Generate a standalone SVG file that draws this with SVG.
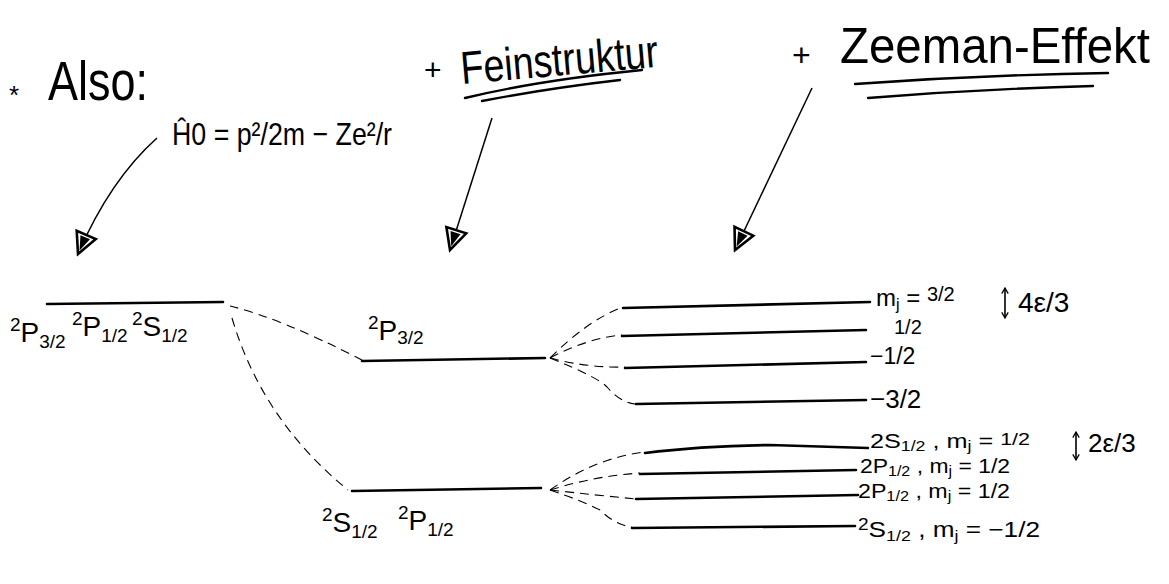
<svg xmlns="http://www.w3.org/2000/svg" width="1169" height="584" viewBox="0 0 1169 584">
<defs>
<style>
text{font-family:"Liberation Sans","DejaVu Sans",sans-serif;fill:#000}
.lvl{stroke:#000;stroke-width:2.6;fill:none;stroke-linecap:round}
.dash{stroke:#000;stroke-width:1.1;fill:none;stroke-dasharray:9 6}
.arr{stroke:#000;stroke-width:1.5;fill:none}
.ul{stroke:#000;stroke-width:2.4;fill:none;stroke-linecap:round}
.dbl{stroke:#000;stroke-width:1.6;fill:none}
.lab{font-size:28px}
.rl{font-size:20px}
</style>
<marker id="ah" viewBox="0 0 20 20" refX="18" refY="10" markerWidth="26" markerHeight="26" markerUnits="userSpaceOnUse" orient="auto">
<path d="M2,2 L18,10 L2,18 Z" fill="#fff" stroke="#000" stroke-width="2"/>
<path d="M4,6 L15,10 L4,14 Z" fill="#000"/>
</marker>
<marker id="tip" viewBox="0 0 10 10" refX="8" refY="5" markerWidth="8" markerHeight="8" markerUnits="userSpaceOnUse" orient="auto-start-reverse">
<path d="M1,1 L8,5 L1,9" fill="none" stroke="#000" stroke-width="1.6"/>
</marker>
</defs>

<g id="title">
<text x="9" y="104" font-size="26">*</text>
<text x="48" y="100" font-size="56" textLength="100" lengthAdjust="spacingAndGlyphs">Also:</text>
</g>
<g id="hamiltonian">
<text x="172" y="145" font-size="32" textLength="220" lengthAdjust="spacingAndGlyphs">Ĥ0 = p²/2m − Ze²/r</text>
</g>
<g id="feinstruktur">
<text x="424" y="80" font-size="30">+</text>
<text x="462" y="84" font-size="46" textLength="198" lengthAdjust="spacingAndGlyphs" transform="rotate(-5 462 84)">Feinstruktur</text>
<path class="ul" d="M465,98 Q540,80 642,70"/>
<path class="ul" d="M482,101 Q550,88 620,80"/>
</g>
<g id="zeeman">
<text x="792" y="66" font-size="32">+</text>
<text x="840" y="63" font-size="50" textLength="310" lengthAdjust="spacingAndGlyphs">Zeeman-Effekt</text>
<path class="ul" d="M855,84 Q980,75 1108,73"/>
<path class="ul" d="M868,98 Q980,89 1093,86"/>
</g>

<g id="connectors">
<path class="arr" d="M157,138 Q110,180 78,254" marker-end="url(#ah)"/>
<path class="arr" d="M492,118 L450,250" marker-end="url(#ah)"/>
<path class="arr" d="M812,88 L735,250" marker-end="url(#ah)"/>
<path class="dash" d="M230,306 Q280,318 362,360"/>
<path class="dash" d="M232,318 Q262,420 348,490"/>
<path class="dash" d="M550,358 Q588,320 623,307"/>
<path class="dash" d="M550,358 Q588,338 622,335"/>
<path class="dash" d="M550,358 Q588,368 625,367"/>
<path class="dash" d="M550,358 Q600,378 608,388 Q620,402 635,404"/>
<path class="dash" d="M550,490 Q595,458 645,452"/>
<path class="dash" d="M550,490 Q595,476 640,473"/>
<path class="dash" d="M550,490 Q595,495 636,499"/>
<path class="dash" d="M550,490 Q580,500 600,510 Q615,525 632,527"/>
</g>

<g id="level-unperturbed">
<path class="lvl" d="M47,304 L223,302"/>
<text class="lab" x="10" y="342"><tspan font-size="19" dy="-11">2</tspan><tspan dy="11">P</tspan><tspan font-size="19" dy="6">3/2</tspan></text>
<text class="lab" x="72" y="336"><tspan font-size="19" dy="-11">2</tspan><tspan dy="11">P</tspan><tspan font-size="19" dy="6">1/2</tspan></text>
<text class="lab" x="132" y="336"><tspan font-size="19" dy="-11">2</tspan><tspan dy="11">S</tspan><tspan font-size="19" dy="6">1/2</tspan></text>
</g>

<g id="level-2P32">
<path class="lvl" d="M362,361 L545,358"/>
<text class="lab" x="368" y="340"><tspan font-size="19" dy="-11">2</tspan><tspan dy="11">P</tspan><tspan font-size="19" dy="4">3/2</tspan></text>
</g>

<g id="level-2S12-2P12">
<path class="lvl" d="M352,491 L541,488"/>
<text class="lab" x="322" y="532"><tspan font-size="19" dy="-11">2</tspan><tspan dy="11">S</tspan><tspan font-size="19" dy="6">1/2</tspan></text>
<text class="lab" x="398" y="530"><tspan font-size="19" dy="-11">2</tspan><tspan dy="11">P</tspan><tspan font-size="19" dy="6">1/2</tspan></text>
</g>

<g id="zeeman-p32">
<path class="lvl" d="M623,308 L870,302"/>
<path class="lvl" d="M622,336 L866,330"/>
<path class="lvl" d="M625,368 L866,362"/>
<path class="lvl" d="M636,404 L866,400"/>
<text x="876" y="306" font-size="24">m<tspan font-size="16" dy="4">j</tspan><tspan dy="-4"> = </tspan><tspan font-size="20" dy="-5">3/2</tspan></text>
<path class="dbl" d="M1005,288 L1005,318" marker-start="url(#tip)" marker-end="url(#tip)"/>
<text x="1018" y="312" font-size="28">4ε/3</text>
<text x="894" y="334" font-size="20">1/2</text>
<text x="870" y="364" font-size="23">−1/2</text>
<text x="870" y="408" font-size="26">−3/2</text>
</g>

<g id="zeeman-n2">
<path class="lvl" d="M645,453 Q700,446 770,445 Q830,447 868,448"/>
<path class="lvl" d="M640,474 L856,470"/>
<path class="lvl" d="M636,499 L858,495"/>
<path class="lvl" d="M632,528 L855,526"/>
<text class="rl" x="870" y="448" textLength="160" lengthAdjust="spacingAndGlyphs">2S<tspan font-size="14" dy="3">1/2</tspan><tspan dy="-3"> , m</tspan><tspan font-size="14" dy="3">j</tspan><tspan dy="-3"> = </tspan><tspan font-size="17" dy="-3">1/2</tspan></text>
<path class="dbl" d="M1076,432 L1076,460" marker-start="url(#tip)" marker-end="url(#tip)"/>
<text x="1088" y="452" font-size="26">2ε/3</text>
<text class="rl" x="860" y="473" textLength="150" lengthAdjust="spacingAndGlyphs">2P<tspan font-size="14" dy="3">1/2</tspan><tspan dy="-3"> , m</tspan><tspan font-size="14" dy="3">j</tspan><tspan dy="-3"> = 1/2</tspan></text>
<text class="rl" x="858" y="498" textLength="152" lengthAdjust="spacingAndGlyphs">2P<tspan font-size="14" dy="3">1/2</tspan><tspan dy="-3"> , m</tspan><tspan font-size="14" dy="3">j</tspan><tspan dy="-3"> = 1/2</tspan></text>
<text x="858" y="537" font-size="22" textLength="182" lengthAdjust="spacingAndGlyphs"><tspan font-size="16" dy="-7">2</tspan><tspan dy="7">S</tspan><tspan font-size="15" dy="4">1/2</tspan><tspan dy="-4"> , m</tspan><tspan font-size="15" dy="4">j</tspan><tspan dy="-4"> = −1/2</tspan></text>
</g>
</svg>
